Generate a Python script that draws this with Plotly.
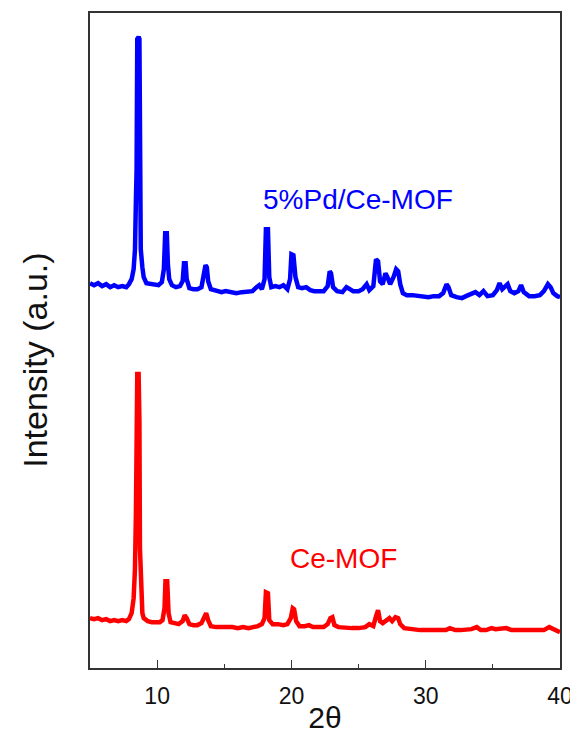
import plotly.graph_objects as go

# 5%Pd/Ce-MOF (blue) pattern: 2theta and intensity (a.u., offset trace)
pd_x = [5.0, 5.3, 5.6, 5.9, 6.2, 6.5, 6.8, 7.1, 7.4, 7.7, 7.9, 8.1, 8.25, 8.35, 8.42, 8.47, 8.52, 8.62, 8.68, 8.72,
        8.78, 8.9, 9.0, 9.2, 9.5, 9.8, 10.1, 10.35, 10.5, 10.6, 10.72, 10.8, 10.9, 11.1, 11.4, 11.7, 11.9, 12.0, 12.12, 12.2,
        12.4, 12.7, 13.0, 13.3, 13.5, 13.6, 13.7, 13.8, 14.0, 14.4, 14.8, 15.1, 15.5, 15.9, 16.3, 16.7, 17.1, 17.4, 17.6, 17.8,
        18.0, 18.1, 18.25, 18.35, 18.5, 18.8, 19.1, 19.4, 19.7, 19.9, 20.0, 20.15, 20.3, 20.5, 20.8, 21.1, 21.4, 21.7, 22.0, 22.4,
        22.7, 22.85, 22.95, 23.1, 23.4, 23.8, 24.1, 24.3, 24.6, 25.0, 25.3, 25.6, 25.8, 26.1, 26.3, 26.45, 26.6, 26.8, 27.0, 27.15,
        27.35, 27.6, 27.8, 27.95, 28.1, 28.3, 28.6, 29.0, 29.4, 29.8, 30.2, 30.6, 31.0, 31.3, 31.55, 31.7, 31.9, 32.3, 32.7, 33.0,
        33.4, 33.7, 34.0, 34.3, 34.6, 35.0, 35.3, 35.5, 35.7, 35.9, 36.1, 36.3, 36.6, 36.9, 37.1, 37.3, 37.7, 38.1, 38.5, 38.8,
        39.1, 39.3, 39.5, 39.8, 40.0]
pd_y = [386, 384, 386, 383, 385, 382, 384, 382, 383, 382, 385, 390, 400, 420, 470, 500, 631, 633, 631, 470,
        420, 402, 392, 386, 385, 384, 384, 387, 400, 436, 436, 405, 390, 384, 382, 383, 388, 406, 406, 390,
        381, 380, 380, 382, 395, 404, 402, 388, 380, 378, 377, 378, 377, 376, 377, 377, 378, 382, 384, 380,
        390, 440, 440, 392, 382, 383, 382, 384, 380, 390, 415, 414, 392, 382, 381, 382, 379, 378, 378, 378,
        383, 398, 396, 382, 378, 377, 382, 380, 378, 378, 380, 385, 379, 383, 410, 408, 388, 385, 396, 392,
        385, 392, 400, 398, 385, 376, 374, 374, 373, 373, 372, 373, 373, 376, 385, 382, 374, 372, 371, 373,
        375, 377, 374, 378, 373, 374, 379, 386, 380, 383, 385, 378, 376, 378, 384, 377, 373, 373, 374, 378,
        385, 382, 376, 373, 372]

# Ce-MOF (red) pattern
ce_x = [5.0, 5.3, 5.6, 5.9, 6.2, 6.5, 6.8, 7.1, 7.4, 7.7, 7.9, 8.1, 8.25, 8.35, 8.42, 8.47, 8.52, 8.62, 8.68, 8.72,
        8.8, 8.9, 9.0, 9.3, 9.6, 9.9, 10.2, 10.4, 10.55, 10.62, 10.75, 10.85, 11.0, 11.3, 11.6, 11.9, 12.05, 12.2, 12.4, 12.7,
        13.0, 13.3, 13.5, 13.65, 13.8, 14.0, 14.4, 14.8, 15.2, 15.6, 16.0, 16.4, 16.8, 17.2, 17.5, 17.8, 18.0, 18.1, 18.25, 18.35,
        18.6, 19.0, 19.4, 19.7, 19.95, 20.1, 20.2, 20.35, 20.6, 21.0, 21.3, 21.6, 22.0, 22.4, 22.7, 22.9, 23.05, 23.2, 23.5, 24.0,
        24.5, 25.0, 25.5, 25.8, 26.1, 26.3, 26.45, 26.6, 26.8, 27.1, 27.3, 27.5, 27.75, 27.95, 28.1, 28.4, 28.8, 29.2, 29.6, 30.0,
        30.5, 31.0, 31.5, 31.8, 32.2, 32.6, 33.0, 33.4, 33.8, 34.1, 34.5, 34.9, 35.2, 35.6, 36.0, 36.4, 36.8, 37.2, 37.6, 38.0,
        38.4, 38.8, 39.2, 39.5, 39.8, 40.0]
ce_y = [50, 49, 50, 48, 49, 47, 48, 47, 48, 47, 49, 55, 70, 100, 156, 248, 295, 295, 248, 120,
        70, 55, 50, 47, 46, 46, 46, 48, 60, 87, 87, 55, 46, 45, 44, 47, 53, 50, 44, 43,
        43, 45, 52, 55, 48, 42, 41, 41, 42, 41, 40, 41, 40, 41, 42, 44, 50, 76, 75, 48,
        44, 44, 43, 44, 50, 60, 59, 47, 42, 42, 43, 41, 41, 41, 44, 50, 51, 43, 41, 40,
        40, 40, 41, 44, 42, 52, 58, 47, 45, 48, 50, 47, 51, 50, 44, 40, 39, 38, 38, 38,
        38, 39, 38, 40, 38, 38, 38, 39, 41, 38, 38, 40, 39, 39, 40, 38, 38, 38, 39, 39,
        38, 38, 41, 39, 37, 36]

x_ticks = [10, 20, 30, 40]
labels = ["5%Pd/Ce-MOF", "Ce-MOF"]

FONT = "Liberation Sans, Arial, sans-serif"

fig = go.Figure()
fig.add_trace(go.Scatter(x=pd_x, y=pd_y, mode="lines", line=dict(color="#0000FF", width=4.5), name=labels[0]))
fig.add_trace(go.Scatter(x=ce_x, y=ce_y, mode="lines", line=dict(color="#FF0000", width=4.5), name=labels[1]))

fig.add_annotation(x=24.94, y=470, xref="x", yref="y", text=labels[0], showarrow=False,
                   xanchor="center", yanchor="middle",
                   font=dict(family=FONT, size=28, color="#0000FF"))
fig.add_annotation(x=23.85, y=110, xref="x", yref="y", text=labels[1], showarrow=False,
                   xanchor="center", yanchor="middle",
                   font=dict(family=FONT, size=28, color="#FF0000"))
fig.add_annotation(x=-0.117, y=0.469, xref="paper", yref="paper", text="Intensity (a.u.)", textangle=-90,
                   xanchor="center", yanchor="middle",
                   showarrow=False, font=dict(family=FONT, size=34, color="#111111"))

fig.update_layout(
    width=570, height=726,
    margin=dict(l=82, r=18, t=3, b=66),
    paper_bgcolor="white", plot_bgcolor="white",
    showlegend=False,
    font=dict(family=FONT, color="#111111"),
)
fig.update_xaxes(
    range=[5, 40], tickvals=x_ticks, ticktext=[str(v) for v in x_ticks],
    ticks="inside", ticklen=8, tickwidth=1.2, tickcolor="#333333",
    minor=dict(ticks="inside", ticklen=4, dtick=5, tickwidth=1.2, tickcolor="#333333"),
    showline=True, linecolor="#333333", linewidth=1.5, mirror=True,
    showgrid=False, zeroline=False, ticklabelstandoff=7,
    tickfont=dict(family=FONT, size=23, color="#111111"),
    title=dict(text="2θ", font=dict(family=FONT, size=30, color="#111111"), standoff=0),
)
fig.update_yaxes(
    range=[0, 657], showticklabels=False, ticks="",
    showline=True, linecolor="#333333", linewidth=1.5, mirror=True,
    showgrid=False, zeroline=False,
)

fig.write_html("out.html")
